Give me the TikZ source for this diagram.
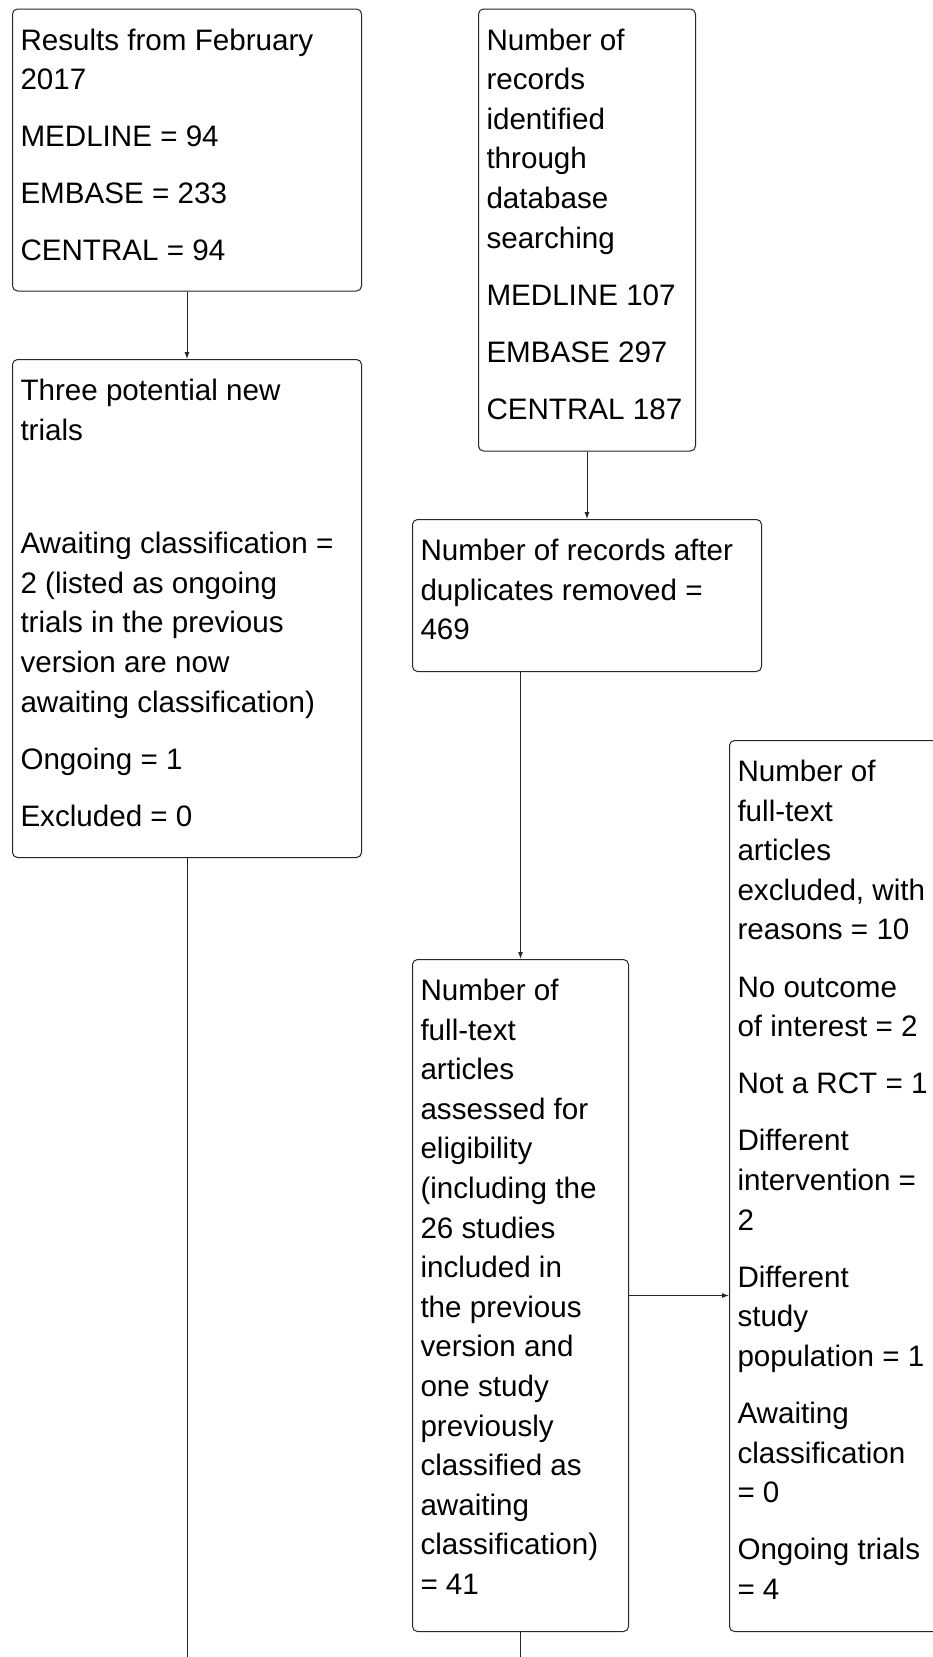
\documentclass[tikz,border=0pt]{standalone}
\usepackage{fontspec}
\setmainfont{Liberation Sans}
\usetikzlibrary{arrows.meta}
\newcommand{\boxtxt}[3]{\parbox[t][#2][t]{#1}{\raggedright\fontsize{29.6}{39.6}\selectfont\setlength{\parskip}{17.5pt}\rule{0pt}{41pt}#3}}
\tikzset{
  flowbox/.style={draw=black!85, line width=1pt, rounded corners=5pt, inner xsep=8pt, inner ysep=0pt, anchor=north west, fill=white},
  conn/.style={draw=black!85, line width=1pt},
  arr/.style={conn, -{Latex[length=7pt,width=5pt]}}
}
\begin{document}
\begin{tikzpicture}[x=1pt,y=-1pt]
\useasboundingbox (0,0) rectangle (933,1657);
\clip (0,0) rectangle (933,1657);
\fill[white] (0,0) rectangle (933,1657);

\node[flowbox] (b1) at (12,8.5) {\boxtxt{333pt}{282pt}{Results from February\newline 2017\par MEDLINE = 94\par EMBASE = 233\par CENTRAL = 94}};

\node[flowbox] (b2) at (12,359) {\boxtxt{333pt}{498pt}{Three potential new\newline trials\par\vspace{56.5pt}Awaiting classification =\newline 2 (listed as ongoing\newline trials in the previous\newline version are now\newline awaiting classification)\par Ongoing = 1\par Excluded = 0}};

\node[flowbox] (b3) at (478,8.5) {\boxtxt{201pt}{442pt}{Number of\newline records\newline identified\newline through\newline database\newline searching\par MEDLINE 107\par EMBASE 297\par CENTRAL 187}};

\node[flowbox] (b4) at (412,519) {\boxtxt{333pt}{152pt}{Number of records after\newline duplicates removed =\newline 469}};

\node[flowbox] (b5) at (412,959) {\boxtxt{200pt}{672pt}{Number of\newline full-text\newline articles\newline assessed for\newline eligibility\newline (including the\newline 26 studies\newline included in\newline the previous\newline version and\newline one study\newline previously\newline classified as\newline awaiting\newline classification)\newline = 41}};

\node[flowbox] (b6) at (729,740) {\boxtxt{224pt}{891pt}{Number of\newline full-text\newline articles\newline excluded, with\newline reasons = 10\par No outcome\newline of interest = 2\par Not a RCT = 1\par Different\newline intervention =\newline 2\par Different\newline study\newline population = 1\par Awaiting\newline classification\newline = 0\par Ongoing trials\newline = 4}};

\coordinate (endL) at (b2.south |- 0,1670);
\coordinate (endR) at (b5.south |- 0,1670);

\draw[arr] (b1.south) -- (b2.north);
\draw[arr] (b3.south) -- (b4.north -| b3.south);
\draw[arr] (b4.south -| b5.north) -- (b5.north);
\draw[arr] (b5.east) -- (b5.east -| b6.west);
\draw[conn] (b2.south) -- (endL);
\draw[conn] (b5.south) -- (endR);
\end{tikzpicture}
\end{document}
